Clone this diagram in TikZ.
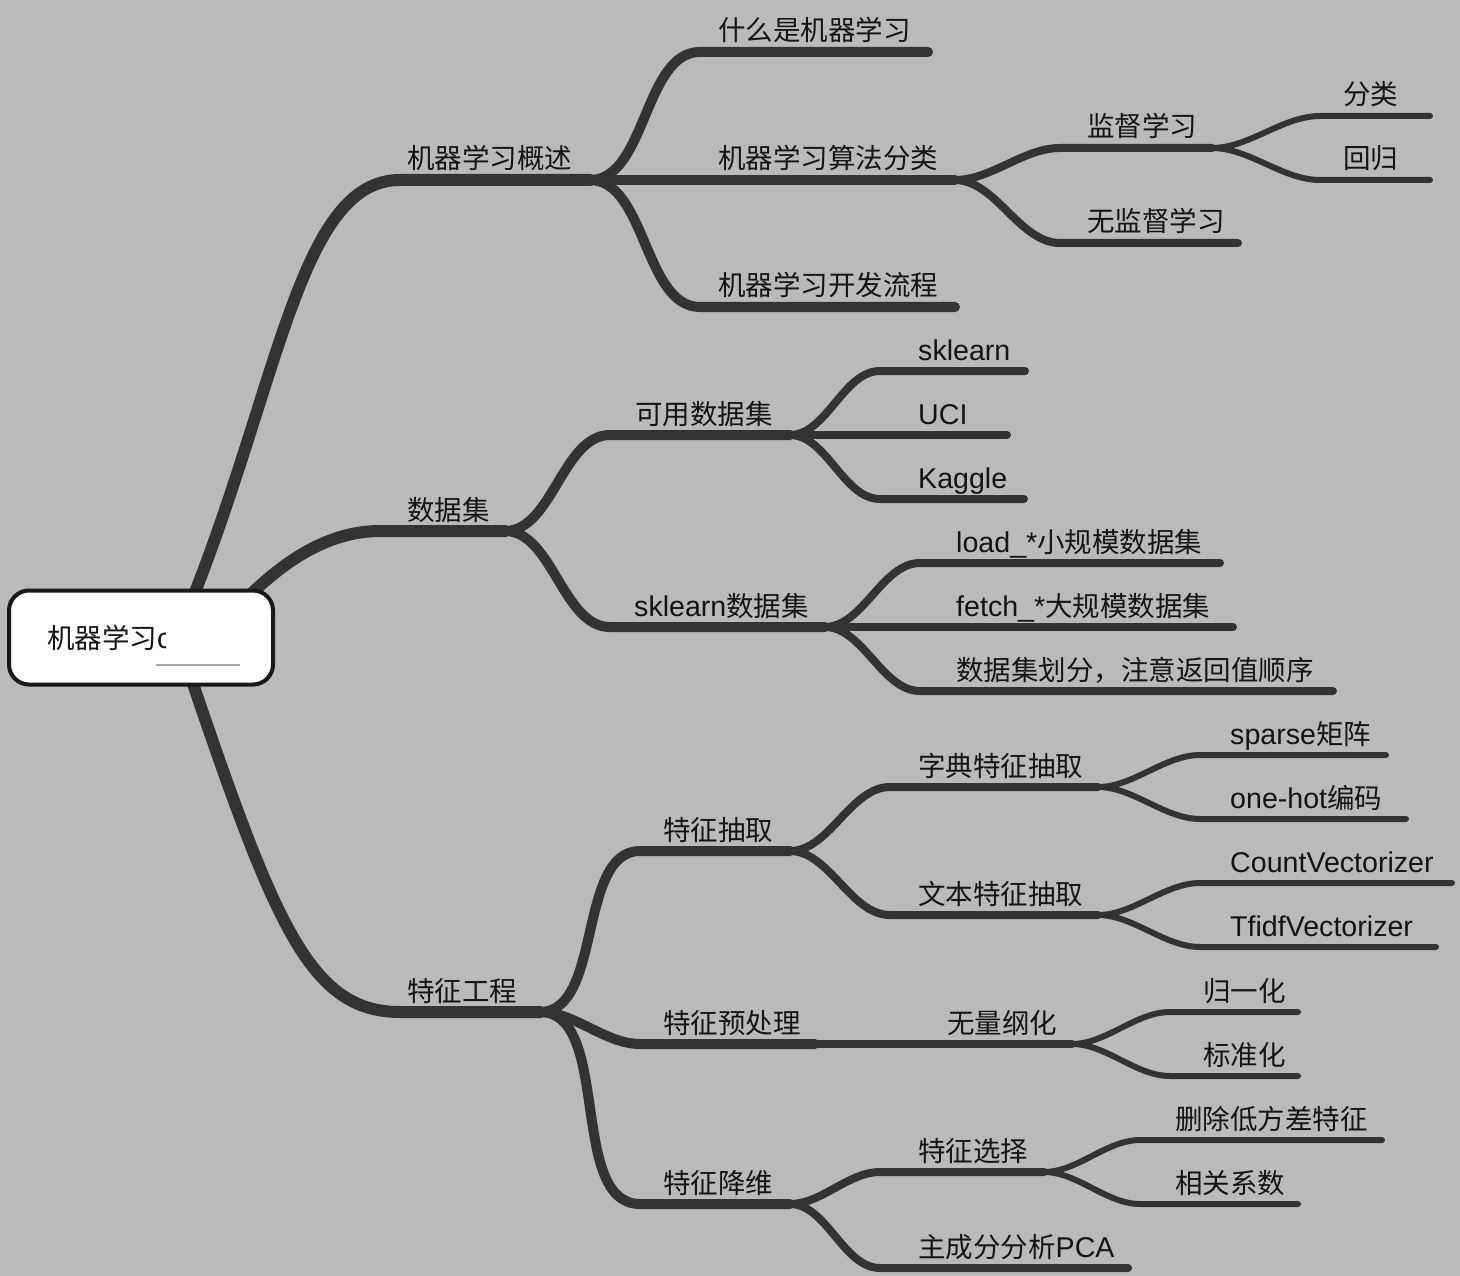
\documentclass[tikz,border=0pt]{standalone}
\usepackage{fontspec}
\setmainfont{Noto Sans CJK SC}
\newfontfamily\lat[Scale=1.04]{Liberation Sans}
\definecolor{bg}{HTML}{B9BAB9}
\definecolor{lc}{HTML}{333333}
\definecolor{tc}{HTML}{141414}
\newcommand\mmbr[8]{%
  \coordinate (#3s) at (#4,#5);
  \coordinate (#3e) at (#6,#5);
  \draw[#1] (#2) to[out=0,in=180,looseness=0.85] (#3s) -- (#3e);
  \node[lab] (#3) at (#7,#5-11) {#8};
}
\begin{document}
\begin{tikzpicture}[x=1pt,y=-1pt,
  l1/.style={draw=lc,line width=12pt,line cap=round},
  l2/.style={draw=lc,line width=10pt,line cap=round},
  l3/.style={draw=lc,line width=8pt,line cap=round},
  l4/.style={draw=lc,line width=6pt,line cap=round},
  lab/.style={anchor=base west,inner sep=0pt,text=tc,font=\fontsize{27.5}{30}\selectfont},
  rootbox/.style={draw=black!90,fill=white,line width=4pt,rounded corners=20pt,minimum width=264pt,minimum height=94pt,inner sep=0pt}]
\fill[bg] (0,0) rectangle (1460,1276);
\useasboundingbox (0,0) rectangle (1460,1276);
% level 1 anchors
\coordinate (rA) at (190,605);
\coordinate (rB) at (245,600);
\coordinate (rC) at (190,675);
\coordinate (As) at (400,180); \coordinate (Ae) at (590,180);
\coordinate (Bs) at (380,531); \coordinate (Be) at (505,531);
\coordinate (Cs) at (400,1012); \coordinate (Ce) at (540,1012);
\draw[l1] (rA) .. controls +(90,-225) and +(-100,0) .. (As) -- (Ae);
\draw[l1] (rB) .. controls +(35,-35) and +(-55,0) .. (Bs) -- (Be);
\draw[l1] (rC) .. controls +(85,250) and +(-90,0) .. (Cs) -- (Ce);
\node[lab] (A) at (407,169) {机器学习概述};
\node[lab] (B) at (407,520) {数据集};
\node[lab] (C) at (407,1001) {特征工程};
% branch A
\mmbr{l2}{Ae}{A1}{700}{52}{928}{718}{什么是机器学习}
\mmbr{l2}{Ae}{A2}{700}{180}{955}{718}{机器学习算法分类}
\mmbr{l2}{Ae}{A3}{700}{307}{955}{718}{机器学习开发流程}
\mmbr{l3}{A2e}{A21}{1060}{148}{1212}{1087}{监督学习}
\mmbr{l3}{A2e}{A22}{1060}{243}{1238}{1087}{无监督学习}
\mmbr{l4}{A21e}{A211}{1320}{116}{1430}{1343}{分类}
\mmbr{l4}{A21e}{A212}{1320}{180}{1430}{1343}{回归}
% branch B
\mmbr{l2}{Be}{B1}{610}{435}{790}{635}{可用数据集}
\mmbr{l2}{Be}{B2}{610}{627}{825}{634}{{\lat sklearn}数据集}
\mmbr{l3}{B1e}{B11}{880}{371}{1025}{918}{\lat sklearn}
\mmbr{l3}{B1e}{B12}{880}{435}{1007}{918}{\lat UCI}
\mmbr{l3}{B1e}{B13}{880}{499}{1024}{918}{\lat Kaggle}
\mmbr{l3}{B2e}{B21}{920}{563}{1220}{956}{{\lat load\_*}小规模数据集}
\mmbr{l3}{B2e}{B22}{920}{627}{1233}{956}{{\lat fetch\_*}大规模数据集}
\mmbr{l3}{B2e}{B23}{920}{691}{1333}{956}{数据集划分，注意返回值顺序}
% branch C
\mmbr{l2}{Ce}{C1}{640}{851}{790}{663}{特征抽取}
\mmbr{l2}{Ce}{C2}{640}{1044}{815}{663}{特征预处理}
\mmbr{l2}{Ce}{C3}{640}{1204}{790}{663}{特征降维}
\mmbr{l3}{C1e}{C11}{890}{787}{1098}{918}{字典特征抽取}
\mmbr{l3}{C1e}{C12}{890}{915}{1098}{918}{文本特征抽取}
\mmbr{l4}{C11e}{C111}{1200}{755}{1386}{1230}{{\lat sparse}矩阵}
\mmbr{l4}{C11e}{C112}{1200}{819}{1406}{1230}{{\lat one-hot}编码}
\mmbr{l4}{C12e}{C121}{1200}{883}{1452}{1230}{\lat CountVectorizer}
\mmbr{l4}{C12e}{C122}{1200}{947}{1436}{1230}{\lat TfidfVectorizer}
\mmbr{l3}{C2e}{C21}{815}{1044}{1072}{947}{无量纲化}
\mmbr{l4}{C21e}{C211}{1170}{1012}{1298}{1203}{归一化}
\mmbr{l4}{C21e}{C212}{1170}{1076}{1298}{1203}{标准化}
\mmbr{l3}{C3e}{C31}{880}{1172}{1044}{918}{特征选择}
\mmbr{l3}{C3e}{C32}{880}{1268}{1128}{918}{主成分分析{\lat PCA}}
\mmbr{l4}{C31e}{C311}{1140}{1140}{1382}{1175}{删除低方差特征}
\mmbr{l4}{C31e}{C312}{1140}{1204}{1298}{1175}{相关系数}
% root
\node[rootbox] (root) at (141,637.5) {};
\node[lab] (roottext) at (47,648) {机器学习{\lat c}};
\fill[white] (166,620) rectangle (248,657);
\draw[black!35,line width=1.5pt] (156,665) -- (240,665);
\end{tikzpicture}
\end{document}
